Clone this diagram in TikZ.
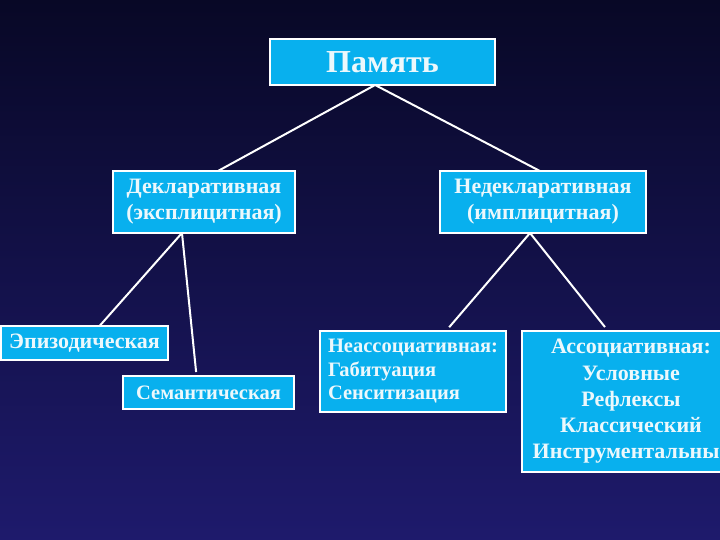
\documentclass[tikz,border=0pt]{standalone}
\usepackage{fontspec}
\setmainfont{Liberation Serif}
\usetikzlibrary{calc}
\definecolor{boxfill}{RGB}{8,176,238}
\definecolor{bgtop}{RGB}{8,8,38}
\definecolor{bgmid}{RGB}{24,24,92}
\definecolor{bgbot}{RGB}{30,26,108}
\definecolor{txt}{RGB}{236,248,252}
\begin{document}
\begin{tikzpicture}[x=1pt,y=-1pt,
  box/.style={draw=white, line width=1.5pt, fill=boxfill, text=txt, inner sep=0pt, outer sep=0pt},
  conn/.style={draw=white, line width=2pt}]
\useasboundingbox (0,0) rectangle (720,540);
\clip (0,0) rectangle (720,540);
\shade[top color=bgtop, middle color=bgmid, bottom color=bgbot] (0,0) rectangle (720,540);

\node[box, minimum width=225pt, minimum height=46pt, font=\bfseries\fontsize{32}{36}\selectfont] (pam) at (382.5,62) {Память};
\node[box, minimum width=182pt, minimum height=62pt, align=center, font=\bfseries\fontsize{22}{26}\selectfont] (decl) at (204,202) {Декларативная\\(эксплицитная)};
\node[box, minimum width=206pt, minimum height=62pt, align=center, font=\bfseries\fontsize{22}{26}\selectfont] (nondecl) at (543,202) {Недекларативная\\(имплицитная)};
\node[box, minimum width=167pt, minimum height=34pt, font=\bfseries\fontsize{22}{26}\selectfont] (epi) at (84.5,343) {Эпизодическая};
\node[box, minimum width=171pt, minimum height=33pt, font=\bfseries\fontsize{20.5}{24}\selectfont] (sem) at (208.5,392.5) {Семантическая};
\node[box, minimum width=186pt, minimum height=81pt, align=left, text width=170pt, font=\bfseries\fontsize{20.5}{23.5}\selectfont] (nonassoc) at (413,371.5) {Неассоциативная:\\Габитуация\\Сенситизация};
\node[box, minimum width=218pt, minimum height=141pt, align=center, font=\bfseries\fontsize{22}{26.2}\selectfont] (assoc) at (631,401.5) {Ассоциативная:\\Условные\\Рефлексы\\Классический\\Инструментальные};

\draw[conn] ($(pam.south west)!0.467!(pam.south east)$) -- ($(decl.north west)!0.577!(decl.north east)$);
\draw[conn] ($(pam.south west)!0.467!(pam.south east)$) -- ($(nondecl.north west)!0.485!(nondecl.north east)$);
\draw[conn] ($(decl.south west)!0.379!(decl.south east)$) -- ($(epi.north west)!0.59!(epi.north east)$);
\draw[conn, shorten >=4pt] ($(decl.south west)!0.379!(decl.south east)$) -- ($(sem.north west)!0.43!(sem.north east)$);
\draw[conn, shorten >=5pt] ($(nondecl.south west)!0.437!(nondecl.south east)$) -- ($(nonassoc.north west)!0.677!(nonassoc.north east)$);
\draw[conn, shorten >=5pt] ($(nondecl.south west)!0.437!(nondecl.south east)$) -- ($(assoc.north west)!0.395!(assoc.north east)$);
\end{tikzpicture}
\end{document}
